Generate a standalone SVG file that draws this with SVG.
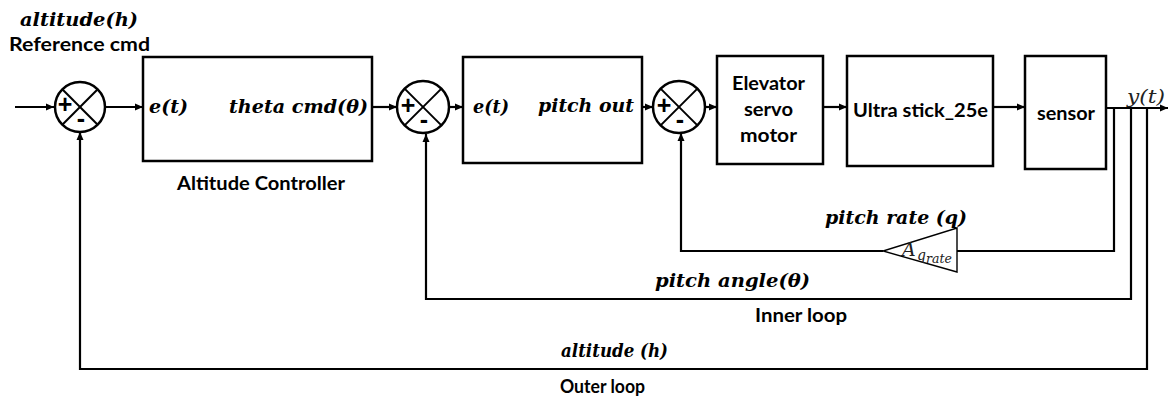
<svg xmlns="http://www.w3.org/2000/svg" width="1169" height="399" viewBox="0 0 1169 399">
<style>
.box{fill:#fff;stroke:#000;stroke-width:2.5}
.sum{fill:#fff;stroke:#000;stroke-width:2.5}
.x{stroke:#000;stroke-width:2}
.c{fill:none;stroke:#000;stroke-width:2.2;stroke-linejoin:miter}
.tri{fill:#fff;stroke:#000;stroke-width:1.4}
.m{font-family:"DejaVu Serif","Liberation Serif",serif;font-style:italic;font-weight:bold;font-size:19px;fill:#000}
.r{font-family:"DejaVu Serif","Liberation Serif",serif;font-style:italic;font-size:19px;fill:#222}
.s{font-family:Lato,"Open Sans","Liberation Sans",sans-serif;font-weight:bold;font-size:19px;fill:#000}
.sg{font-family:"Liberation Sans",Arial,sans-serif;font-weight:bold;font-size:25px;fill:#000;text-anchor:middle}
</style>
<defs>
<marker id="ah" markerUnits="userSpaceOnUse" markerWidth="9" markerHeight="8" refX="8" refY="4" orient="auto">
<path d="M0,0.5 L8,4 L0,7.5 z" fill="#000"/>
</marker>
</defs>

<g id="connectors">
<path class="c" d="M15,107 H54" marker-end="url(#ah)"/>
<path class="c" d="M105,107 H143" marker-end="url(#ah)"/>
<path class="c" d="M372,107 H397" marker-end="url(#ah)"/>
<path class="c" d="M449,107 H463" marker-end="url(#ah)"/>
<path class="c" d="M642,107 H653" marker-end="url(#ah)"/>
<path class="c" d="M705,107 H717" marker-end="url(#ah)"/>
<path class="c" d="M823,107 H847" marker-end="url(#ah)"/>
<path class="c" d="M993,107 H1025" marker-end="url(#ah)"/>
<path class="c" d="M1106,108 H1168" marker-end="url(#ah)"/>
<path class="c" d="M1114,108 V251 H957"/>
<path class="c" d="M883,251 H681 V133" marker-end="url(#ah)"/>
<path class="c" d="M1131,108 V299 H426 V134" marker-end="url(#ah)"/>
<path class="c" d="M1147,108 V369 H80 V132" marker-end="url(#ah)"/>
</g>

<g id="sum1">
<circle class="sum" cx="80" cy="107" r="25"/>
<line class="x" x1="62.3" y1="89.3" x2="97.7" y2="124.7"/>
<line class="x" x1="97.7" y1="89.3" x2="62.3" y2="124.7"/>
<text class="sg" x="65" y="113">+</text>
<text class="sg" x="81" y="127">-</text>
</g>

<g id="altitude-controller">
<rect class="box" x="143" y="57" width="229" height="104"/>
<text class="m" x="149" y="113" textLength="39" lengthAdjust="spacingAndGlyphs">e(t)</text>
<text class="m" x="229" y="113" textLength="139" lengthAdjust="spacingAndGlyphs">theta cmd(θ)</text>
</g>

<g id="sum2">
<circle class="sum" cx="423" cy="107" r="26"/>
<line class="x" x1="404.6" y1="88.6" x2="441.4" y2="125.4"/>
<line class="x" x1="441.4" y1="88.6" x2="404.6" y2="125.4"/>
<text class="sg" x="408" y="114">+</text>
<text class="sg" x="424" y="128">-</text>
</g>

<g id="pitch-controller">
<rect class="box" x="463" y="57" width="179" height="106"/>
<text class="m" x="473" y="113" textLength="36" lengthAdjust="spacingAndGlyphs">e(t)</text>
<text class="m" x="538" y="112" textLength="96" lengthAdjust="spacingAndGlyphs">pitch out</text>
</g>

<g id="sum3">
<circle class="sum" cx="679" cy="107" r="26"/>
<line class="x" x1="660.6" y1="88.6" x2="697.4" y2="125.4"/>
<line class="x" x1="697.4" y1="88.6" x2="660.6" y2="125.4"/>
<text class="sg" x="664" y="114">+</text>
<text class="sg" x="680" y="128">-</text>
</g>

<g id="elevator">
<rect class="box" x="717" y="56" width="106" height="108"/>
<text class="s" x="732" y="90" textLength="73" lengthAdjust="spacingAndGlyphs">Elevator</text>
<text class="s" x="744" y="116" textLength="49" lengthAdjust="spacingAndGlyphs">servo</text>
<text class="s" x="740" y="142" textLength="57" lengthAdjust="spacingAndGlyphs">motor</text>
</g>

<g id="ultra-stick">
<rect class="box" x="847" y="56" width="146" height="110"/>
<text class="s" x="853" y="117" textLength="135" lengthAdjust="spacingAndGlyphs">Ultra stick_25e</text>
</g>

<g id="sensor">
<rect class="box" x="1025" y="56" width="81" height="113"/>
<text class="s" x="1037" y="120" textLength="58" lengthAdjust="spacingAndGlyphs">sensor</text>
</g>

<g id="gain">
<polygon class="tri" points="957,228 957,272 883,251"/>
<text class="r" font-size="18"><tspan x="902" y="256">A</tspan><tspan x="917" y="260" font-size="14">q</tspan><tspan x="926" y="263" font-size="12.5">rate</tspan></text>
</g>

<g id="labels">
<text class="m" x="20" y="26" textLength="118" lengthAdjust="spacingAndGlyphs">altitude(h)</text>
<text class="s" x="9" y="51" textLength="141" lengthAdjust="spacingAndGlyphs">Reference cmd</text>
<text class="s" x="177" y="190" textLength="168" lengthAdjust="spacingAndGlyphs">Altitude Controller</text>
<text class="r" x="1127" y="103" textLength="38" lengthAdjust="spacingAndGlyphs">y(t)</text>
<text class="m" x="825" y="224" textLength="142" lengthAdjust="spacingAndGlyphs">pitch rate (q)</text>
<text class="m" x="655" y="287" textLength="155" lengthAdjust="spacingAndGlyphs">pitch angle(θ)</text>
<text class="s" x="755" y="322" textLength="92" lengthAdjust="spacingAndGlyphs">Inner loop</text>
<text class="m" x="561" y="357" textLength="107" lengthAdjust="spacingAndGlyphs">altitude (h)</text>
<text class="s" x="560" y="393" textLength="85" lengthAdjust="spacingAndGlyphs">Outer loop</text>
</g>
</svg>
